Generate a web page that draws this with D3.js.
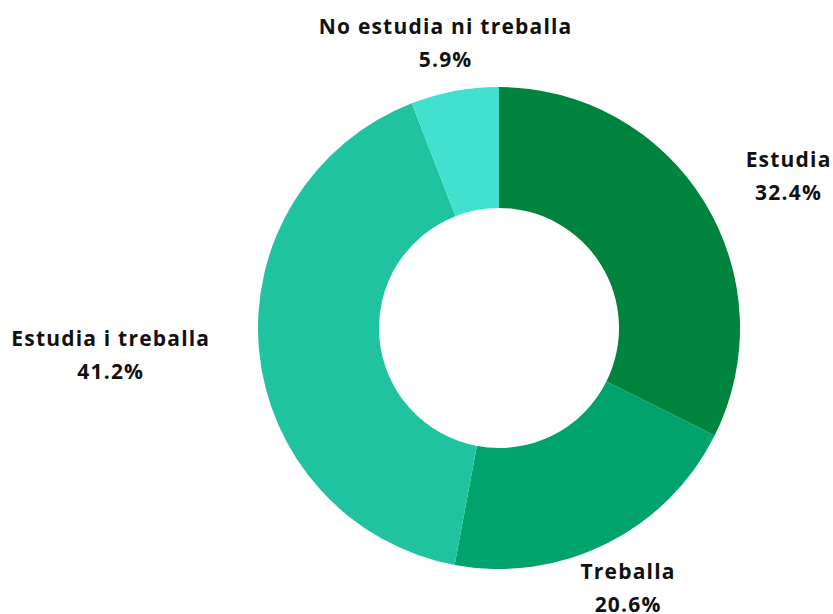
<!DOCTYPE html>
<html><head><meta charset="utf-8">
<script src="https://cdn.jsdelivr.net/npm/d3@7"></script>
<style>body{margin:0;background:#fff}svg{display:block}</style>
</head><body>
<svg id="c" width="833" height="614"></svg>
<script>
const categories = ["Estudia","Treballa","Estudia i treballa","No estudia ni treballa"];
const values = [32.4, 20.6, 41.2, 5.9];
const colors = ["#00843d","#00a36b","#20c39f","#42e0cf"];

const svg = d3.select("#c");
const cx = 499, cy = 328, R = 241, r = 120;
const g = svg.append("g").attr("transform",`translate(${cx},${cy})`);
const pie = d3.pie().sort(null).value(d=>d.v);
const data = pie(categories.map((c,i)=>({c, v:values[i], col:colors[i]})));
const arc = d3.arc().innerRadius(r).outerRadius(R);
g.selectAll("path").data(data).join("path").attr("d",arc).attr("fill",d=>d.data.col);

const fs = 21, lh = 33;
data.forEach(d=>{
  const a = (d.startAngle+d.endAngle)/2;
  const s = Math.sin(a), c = -Math.cos(a);
  const t = g.append("text").attr("font-family","Open Sans").attr("font-weight",700)
    .attr("font-size",fs).attr("letter-spacing","1.2px").attr("fill","#111").attr("text-anchor","middle");
  t.append("tspan").attr("x",0).attr("dy",0).text(d.data.c);
  t.append("tspan").attr("x",0).attr("dy",lh).text(d.data.v.toFixed(1)+"%");
  const bb = t.node().getBBox();
  const w = bb.width, h = bb.height;
  const pr = 290;
  const px = pr*s, py = pr*c;
  const ox = px + (Math.abs(s) > 0.7 ? Math.sign(s)*w/2 : 0);
  const oy = py;
  t.attr("transform",`translate(${ox - (bb.x + w/2)},${oy - (bb.y + h/2)})`);
});
</script>
</body></html>
